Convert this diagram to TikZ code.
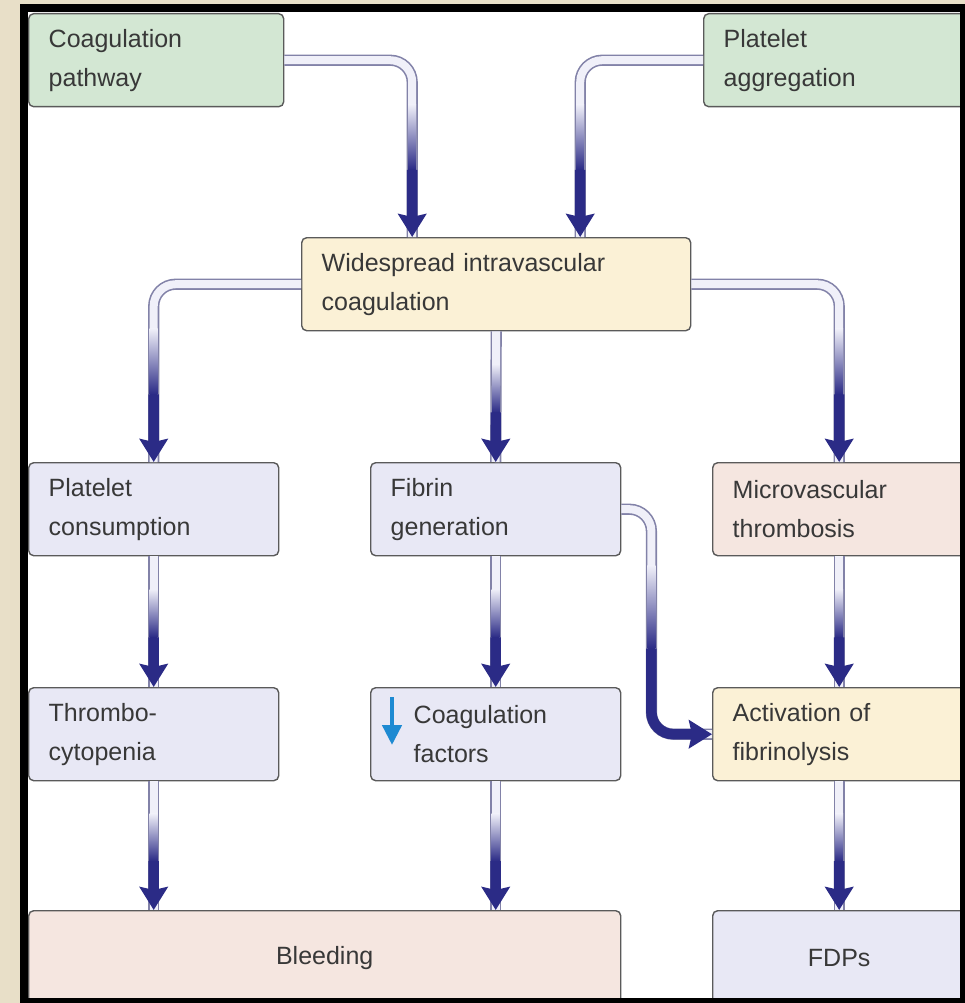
\documentclass[tikz,border=0pt]{standalone}
\usepackage{fontspec}
\setmainfont{Liberation Sans}
\usetikzlibrary{arrows.meta, calc, positioning}

\definecolor{paper}{HTML}{E8DFC8}
\definecolor{leaf}{HTML}{D3E7D3}
\definecolor{cream}{HTML}{FBF1D6}
\definecolor{lilac}{HTML}{E8E8F5}
\definecolor{blush}{HTML}{F5E6E0}
\definecolor{boxline}{HTML}{5A5A5A}
\definecolor{txt}{HTML}{383838}
\definecolor{navy}{HTML}{2B2B86}
\definecolor{pipeedge}{HTML}{8282A8}
\definecolor{pipefill}{HTML}{F0F0F9}
\definecolor{pipemid}{HTML}{8A8ACC}
\definecolor{dropblue}{HTML}{1E8AD2}

\tikzset{
  box/.style={draw=boxline, line width=1.4pt, rounded corners=5pt, anchor=north west,
    minimum height=93pt, inner xsep=20pt, inner ysep=0pt, text width=210pt,
    align=left, text=txt, font=\fontsize{25}{39}\selectfont},
  pipe/.style={draw=pipeedge, line width=1.6pt, double=pipefill, double distance=8pt,
    rounded corners=22pt},
  pipehead/.style={draw=navy, line width=10.5pt, rounded corners=22pt,
    -{Stealth[length=23pt, width=28pt, inset=3pt]}},
  lowarrow/.style={draw=dropblue, line width=4.5pt,
    -{Triangle[length=20pt, width=19pt]}}
}

% shaded fall of a pipe: #1 top of the drop, #2 its foot, #3 rest of the head
\newcommand{\pipefade}[3]{%
  \shade[top color=pipefill, middle color=pipemid, bottom color=navy]
    ($(#1)!0.25!(#2)+(-4,0)$) rectangle ($(#1)!0.62!(#2)+(4,0)$);
  \draw[pipehead] ($(#1)!0.62!(#2)$) -- (#2) #3;
}

\begin{document}
\begin{tikzpicture}[x=1pt, y=-1pt]
\useasboundingbox (0,0) rectangle (965,1003);
\fill[paper] (0,0) rectangle (965,1003);
\fill[white] (20,4) rectangle (965,1003);

% sources
\node[box, fill=leaf, text width=215pt] (coagpath) at (28,13) {Coagulation\\pathway};
\node[box, fill=leaf, text width=222pt] (platagg) at (703,13) {Platelet\\aggregation};

% centre
\node[box, fill=cream, text width=349pt] (wic) at (301,237) {Widespread intravascular\\coagulation};

% second row
\node[box, fill=lilac] (platcons) at (28,462) {Platelet\\consumption};
\node[box, fill=lilac] (fibrin) at (370,462) {Fibrin\\generation};
\node[box, fill=blush, text width=213pt] (micro) at (712,462) {Microvascular\\thrombosis};

% third row
\node[box, fill=lilac] (thromb) at (28,687) {Thrombo-\\cytopenia};
\node[box, fill=lilac] (coagfac) at (370,687) {\hspace*{23pt}Coagulation\\\hspace*{23pt}factors};
\node[box, fill=cream, text width=213pt] (activ) at (712,687) {Activation of\\fibrinolysis};
\draw[lowarrow] ([xshift=22pt, yshift=-10pt]coagfac.north west)
  -- ([xshift=22pt, yshift=-58pt]coagfac.north west);

% outcomes
\node[box, fill=blush, text width=552pt, align=center, minimum height=95pt] (bleed) at (28,910) {Bleeding};
\node[box, fill=lilac, text width=213pt, align=center, minimum height=95pt] (fdps) at (712,910) {FDPs};

% where the pipes land and turn
\coordinate (in1) at ([xshift=-84pt]wic.north);
\coordinate (in2) at ([xshift=84pt]wic.north);
\coordinate (c1) at (coagpath.east -| in1);
\coordinate (c2) at (platagg.west -| in2);
\coordinate (c3) at (wic.west -| platcons.north);
\coordinate (c5) at (wic.east -| micro.north);
\coordinate (k1) at ([xshift=30pt]fibrin.east);
\coordinate (k2) at (k1 |- activ.west);
\coordinate (b1) at (thromb.south |- bleed.north);
\coordinate (b2) at (coagfac.south |- bleed.north);

% pipes with a turn
\draw[pipe] (coagpath.east) -- (c1) -- (in1);
\pipefade{c1}{in1}{}
\draw[pipe] (platagg.west) -- (c2) -- (in2);
\pipefade{c2}{in2}{}
\draw[pipe] (wic.west) -- (c3) -- (platcons.north);
\pipefade{c3}{platcons.north}{}
\draw[pipe] (wic.east) -- (c5) -- (micro.north);
\pipefade{c5}{micro.north}{}

% straight pipes
\foreach \a/\b in {wic.south/fibrin.north, platcons.south/thromb.north,
    fibrin.south/coagfac.north, micro.south/activ.north,
    thromb.south/b1, coagfac.south/b2, activ.south/fdps.north} {
  \draw[pipe] (\a) -- (\b);
  \pipefade{\a}{\b}{}
}

% fibrin to fibrinolysis
\draw[pipe] (fibrin.east) -- (k1) -- (k2) -- (activ.west);
\pipefade{k1}{k2}{-- (activ.west)}

% frame
\draw[line width=8pt] (24,8) rectangle (964,1002);
\end{tikzpicture}
\end{document}
